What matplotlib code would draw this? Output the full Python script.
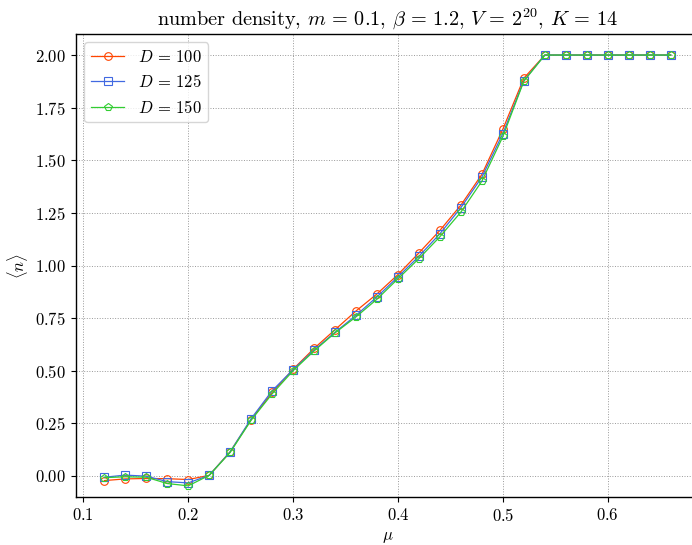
import matplotlib
matplotlib.use("Agg")
import matplotlib.pyplot as plt

plt.rcParams["font.family"] = "serif"
plt.rcParams["font.serif"] = ["cmr10", "DejaVu Serif"]
plt.rcParams["mathtext.fontset"] = "cm"
plt.rcParams["axes.formatter.use_mathtext"] = True
plt.rcParams["font.size"] = 12

mu = [0.12, 0.14, 0.16, 0.18, 0.20, 0.22, 0.24, 0.26, 0.28, 0.30,
      0.32, 0.34, 0.36, 0.38, 0.40, 0.42, 0.44, 0.46, 0.48, 0.50,
      0.52, 0.54, 0.56, 0.58, 0.60, 0.62, 0.64, 0.66]

n_d100 = [-0.022, -0.014, -0.012, -0.013, -0.017, 0.003, 0.115, 0.268, 0.397, 0.507,
          0.606, 0.695, 0.784, 0.865, 0.957, 1.060, 1.167, 1.287, 1.433, 1.648,
          1.890, 2.0, 2.0, 2.0, 2.0, 2.0, 2.0, 2.0]
n_d125 = [-0.006, 0.004, -0.001, -0.027, -0.033, 0.003, 0.115, 0.272, 0.405, 0.505,
          0.598, 0.683, 0.763, 0.851, 0.946, 1.044, 1.151, 1.275, 1.420, 1.627,
          1.878, 2.0, 2.0, 2.0, 2.0, 2.0, 2.0, 2.0]
n_d150 = [-0.008, -0.004, -0.006, -0.036, -0.047, 0.003, 0.112, 0.265, 0.390, 0.500,
          0.594, 0.680, 0.756, 0.840, 0.937, 1.033, 1.137, 1.254, 1.401, 1.613,
          1.876, 2.0, 2.0, 2.0, 2.0, 2.0, 2.0, 2.0]

series = [
    (n_d100, r"$D\,=\,100$", "#ff4500", "o"),
    (n_d125, r"$D\,=\,125$", "#4169e1", "s"),
    (n_d150, r"$D\,=\,150$", "#32cd32", "p"),
]

fig = plt.figure(figsize=(6.92, 5.45), dpi=100)
ax = fig.add_axes([76 / 692, 48 / 545, 623 / 692, 463 / 545])

for vals, label, color, marker in series:
    ax.plot(mu, vals, color=color, marker=marker, markersize=5.5,
            markerfacecolor="none", markeredgewidth=0.8, linewidth=0.9,
            label=label)

ax.set_xlim(0.093, 0.687)
ax.set_ylim(-0.1, 2.1)
ax.set_yticks([0.0, 0.25, 0.5, 0.75, 1.0, 1.25, 1.5, 1.75, 2.0])
ax.set_yticklabels([f"${v:.2f}$" for v in ax.get_yticks()])
ax.set_xticks([0.1, 0.2, 0.3, 0.4, 0.5, 0.6])
ax.set_xticklabels([f"${v:.1f}$" for v in ax.get_xticks()])

ax.grid(True, linestyle=":", color="0.6", linewidth=0.7)
for s in ax.spines.values():
    s.set_linewidth(1.0)
# the reference is cropped before its right edge
ax.spines["right"].set_visible(False)

ax.set_title(r"number density, $m\,=\,0.1$, $\beta\,=\,1.2$, $V\,=\,2^{20}$, $K\,=\,14$",
             fontsize=14.6)
ax.set_xlabel(r"$\mu$")
ax.set_ylabel(r"$\langle n \rangle$")
ax.legend(loc="upper left")

fig.savefig("out.png", dpi=100)
